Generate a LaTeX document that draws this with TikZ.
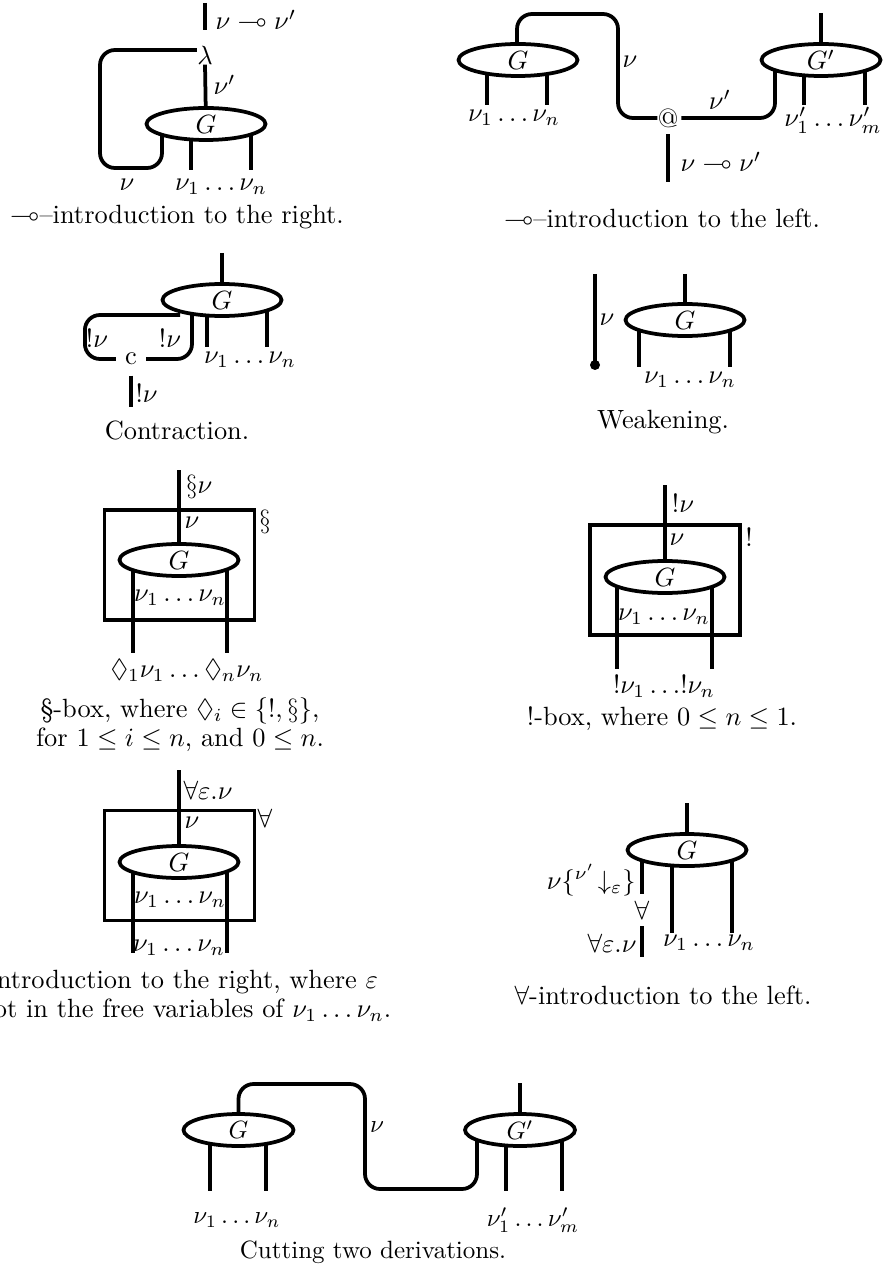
\RequirePackage{fix-cm}
\documentclass[tikz,border=0pt]{standalone}
\usepackage{amssymb}
\usetikzlibrary{shapes.geometric,backgrounds,calc}
\begin{document}
\begin{tikzpicture}[x=0.4pt,y=-0.4pt,
  every node/.append style={font=\fontsize{10.55}{11.5}\selectfont},
  fnine/.style={font=\fontsize{10}{12}\selectfont},
  gnode/.style={ellipse,draw,fill=white,line width=1.5pt,minimum width=47.6pt,minimum height=12.8pt,inner sep=0pt},
  gsmall/.style={gnode,minimum width=44pt,fnine},
  wire/.style={line width=1.5pt},
  loopw/.style={wire,rounded corners=6pt},
  lbl/.style={inner sep=0pt},
  pbox/.style={draw,line width=1.5pt,inner sep=0pt,minimum width=60pt,minimum height=44pt},
  captxt/.style={inner sep=0pt,align=center},
  dotst/.style={circle,fill,inner sep=0pt,minimum size=4pt}
]
\useasboundingbox (0,0) rectangle (891,1271);
\clip (0,0) rectangle (891,1271);

% ---------- D1: -o introduction right
\node[gnode] (g1) at (206,124) {$G$};
\node[lbl] (lam) at (205,55) {$\lambda$};
\coordinate (t1) at (205,3);
\node[lbl,anchor=west] (l1a) at (215,20) {$\nu \multimap \nu'$};
\node[lbl,anchor=west] (l1b) at (213,85) {$\nu'$};
\node[lbl] (l1c) at (127,185) {$\nu$};
\node[lbl] (l1d) at (221,187) {$\nu_1\ldots\nu_n$};
\coordinate (e1a) at (191,170);
\coordinate (e1b) at (251,170);
\node[captxt] (c1) at (177,217) {$\multimap$--introduction to the right.};

% ---------- D2: -o introduction left
\node[gnode] (g2) at (518,60) {$G$};
\node[gnode] (g2p) at (821,60) {$G'$};
\node[lbl] (at2) at (668,118) {@};
\coordinate (t2) at (821,13);
\coordinate (e2a) at (487,105);
\coordinate (e2b) at (547,105);
\coordinate (e2c) at (804,105);
\coordinate (e2d) at (865,105);
\coordinate (d2) at (668,182);
\node[lbl] (l2a) at (630,62) {$\nu$};
\node[lbl] (l2b) at (720,100) {$\nu'$};
\node[lbl] (l2c) at (514,118) {$\nu_1\ldots\nu_n$};
\node[lbl] (l2d) at (833,120) {$\nu'_1\ldots\nu'_m$};
\node[lbl,anchor=west] (l2e) at (680,162) {$\nu \multimap \nu'$};
\node[captxt] (c2) at (662,218) {$\multimap$--introduction to the left.};

% ---------- D3: contraction
\node[gnode] (g3) at (222,300) {$G$};
\node[inner xsep=3.5pt,inner ysep=0pt] (cc3) at (131,359) {c};
\coordinate (t3) at (222,253);
\coordinate (e3a) at (207,347);
\coordinate (e3b) at (267,347);
\coordinate (d3) at (131,407);
\node[lbl] (l3a) at (97,338) {$!\nu$};
\node[lbl] (l3b) at (170,338) {$!\nu$};
\node[lbl] (l3c) at (250,360) {$\nu_1\ldots\nu_n$};
\node[lbl,anchor=west] (l3d) at (135,393) {$!\nu$};
\node[captxt] (c3) at (177,430) {Contraction.};

% ---------- D4: weakening
\node[gnode] (g4) at (685,320) {$G$};
\node[dotst] (dot4) at (595,365) {};
\coordinate (t4a) at (595,274);
\coordinate (t4b) at (685,274);
\coordinate (e4a) at (639,367);
\coordinate (e4b) at (730,367);
\node[lbl] (l4a) at (607,320) {$\nu$};
\node[lbl] (l4b) at (690,380) {$\nu_1\ldots\nu_n$};
\node[captxt] (c4) at (663,422) {Weakening.};

% ---------- D5: paragraph box
\node[pbox] (b5) at (179.5,565) {};
\node[gnode] (g5) at (179,560) {$G$};
\coordinate (t5) at (179,470);
\coordinate (e5a) at (133,653);
\coordinate (e5b) at (227,653);
\node[lbl] (l5a) at (199,487) {$\S\nu$};
\node[lbl] (l5b) at (265,522) {$\S$};
\node[lbl] (l5c) at (192,523) {$\nu$};
\node[lbl] (l5d) at (180,598) {$\nu_1\ldots\nu_n$};
\node[lbl] (l5e) at (187,670) {$\Diamond_1\nu_1\ldots\Diamond_n\nu_n$};
\node[captxt] (c5) at (180,725) {\S-box, where $\Diamond_i\in\{!,\S\}$,\\for $1\le i\le n$, and $0\le n$.};

% ---------- D6: ! box
\node[pbox] (b6) at (665,580) {};
\node[gnode] (g6) at (665,577) {$G$};
\coordinate (t6) at (665,485);
\coordinate (e6a) at (617,669);
\coordinate (e6b) at (712,669);
\node[lbl] (l6a) at (683,503) {$!\nu$};
\node[lbl] (l6b) at (749,537) {$!$};
\node[lbl] (l6c) at (677,540) {$\nu$};
\node[lbl] (l6d) at (664,617) {$\nu_1\ldots\nu_n$};
\node[lbl] (l6e) at (664,686) {$!\nu_1\ldots!\nu_n$};
\node[captxt] (c6) at (662,719) {!-box, where $0\le n\le 1$.};

% ---------- D7: forall right
\node[pbox] (b7) at (179.5,865.5) {};
\node[gnode] (g7) at (179,862) {$G$};
\coordinate (t7) at (179,770);
\coordinate (e7a) at (133,953);
\coordinate (e7b) at (227,953);
\node[lbl] (l7a) at (208,790) {$\forall\varepsilon.\nu$};
\node[lbl] (l7b) at (265,818) {$\forall$};
\node[lbl] (l7c) at (192,823) {$\nu$};
\node[lbl] (l7d) at (180,900) {$\nu_1\ldots\nu_n$};
\node[lbl] (l7e) at (179,948) {$\nu_1\ldots\nu_n$};
\node[captxt] (c7) at (172,996) {$\forall$-introduction to the right, where $\varepsilon$\\is not in the free variables of $\nu_1\ldots\nu_n$.};

% ---------- D8: forall left
\node[gnode] (g8) at (687,850) {$G$};
\node[lbl] (fa8) at (642,910) {$\forall$};
\coordinate (t8) at (687,803);
\coordinate (d8) at (642,957);
\coordinate (e8a) at (672,933);
\coordinate (e8b) at (732,933);
\node[lbl,anchor=east] (l8a) at (636,880) {$\nu\{{}^{\nu'}\!\downarrow_{\varepsilon}\}$};
\node[lbl,anchor=east] (l8b) at (637,943) {$\forall\varepsilon.\nu$};
\node[lbl] (l8c) at (709,943) {$\nu_1\ldots\nu_n$};
\node[captxt] (c8) at (663,995) {$\forall$-introduction to the left.};

% ---------- D9: cut
\node[gsmall] (g9) at (238.5,1130) {$G$};
\node[gsmall] (g9p) at (520,1130) {$G'$};
\coordinate (t9) at (520,1083);
\coordinate (e9a) at (210,1191);
\coordinate (e9b) at (266,1191);
\coordinate (e9c) at (506,1191);
\coordinate (e9d) at (562,1191);
\node[lbl,fnine] (l9a) at (377,1127) {$\nu$};
\node[lbl,fnine] (l9b) at (237,1220) {$\nu_1\ldots\nu_n$};
\node[lbl,fnine] (l9c) at (533,1220) {$\nu'_1\ldots\nu'_m$};
\node[captxt,fnine] (c9) at (373,1252) {Cutting two derivations.};

\begin{scope}[on background layer]
% D1
\draw[wire] (t1) -- ([yshift=6pt]lam.north);
\draw[wire] (lam.south) -- (g1.center);
\draw[loopw] ($(g1.center)+(-44,0)$) |- (100,168) |- ([yshift=2pt]lam.west);
\draw[wire] ($(g1.center)+(-15,0)$) -- (e1a);
\draw[wire] ($(g1.center)+(45,0)$) -- (e1b);
% D2
\draw[loopw] ($(g2.center)+(-1,0)$) |- (618,14) |- (at2.west);
\draw[loopw] ([xshift=1pt]at2.east) -| ($(g2p.center)+(-46,0)$);
\draw[wire] (t2) -- (g2p.center);
\draw[wire] ($(g2.center)+(-31,0)$) -- (e2a);
\draw[wire] ($(g2.center)+(29,0)$) -- (e2b);
\draw[wire] ($(g2p.center)+(-17,0)$) -- (e2c);
\draw[wire] ($(g2p.center)+(44,0)$) -- (e2d);
\draw[wire] ([yshift=-2.5pt]at2.south) -- (d2);
% D3
\draw[wire] (t3) -- (g3.center);
\draw[loopw] ($(g3.center)+(-42,15)$) -| ($(cc3.west)+(-31,0)$) -- (cc3.west);
\draw[loopw] (cc3.east) -| ($(g3.center)+(-30,0)$);
\draw[wire] ($(g3.center)+(-15,0)$) -- (e3a);
\draw[wire] ($(g3.center)+(45,0)$) -- (e3b);
\draw[wire] ([yshift=-4pt]cc3.south) -- (d3);
% D4
\draw[wire] (t4a) -- (dot4.center);
\draw[wire] (t4b) -- (g4.center);
\draw[wire] ($(g4.center)+(-46,0)$) -- (e4a);
\draw[wire] ($(g4.center)+(45,0)$) -- (e4b);
% D5
\draw[wire] (t5) -- (g5.center);
\draw[wire] ($(g5.center)+(-46,0)$) -- (e5a);
\draw[wire] ($(g5.center)+(48,0)$) -- (e5b);
% D6
\draw[wire] (t6) -- (g6.center);
\draw[wire] ($(g6.center)+(-48,0)$) -- (e6a);
\draw[wire] ($(g6.center)+(47,0)$) -- (e6b);
% D7
\draw[wire] (t7) -- (g7.center);
\draw[wire] ($(g7.center)+(-46,0)$) -- (e7a);
\draw[wire] ($(g7.center)+(48,0)$) -- (e7b);
% D8
\draw[wire] (t8) -- (g8.center);
\draw[wire] ($(g8.center)+(-45,0)$) -- ([yshift=2.6pt]fa8.north);
\draw[wire] ([yshift=-2.6pt]fa8.south) -- (d8);
\draw[wire] ($(g8.center)+(-15,0)$) -- (e8a);
\draw[wire] ($(g8.center)+(45,0)$) -- (e8b);
% D9
\draw[loopw] (g9.center) |- (365,1084) |- ($(g9p.center)+(-43,59)$) -- ($(g9p.center)+(-43,0)$);
\draw[wire] (t9) -- (g9p.center);
\draw[wire] ($(g9.center)+(-28.5,0)$) -- (e9a);
\draw[wire] ($(g9.center)+(27.5,0)$) -- (e9b);
\draw[wire] ($(g9p.center)+(-14,0)$) -- (e9c);
\draw[wire] ($(g9p.center)+(42,0)$) -- (e9d);
\end{scope}
\end{tikzpicture}
\end{document}
